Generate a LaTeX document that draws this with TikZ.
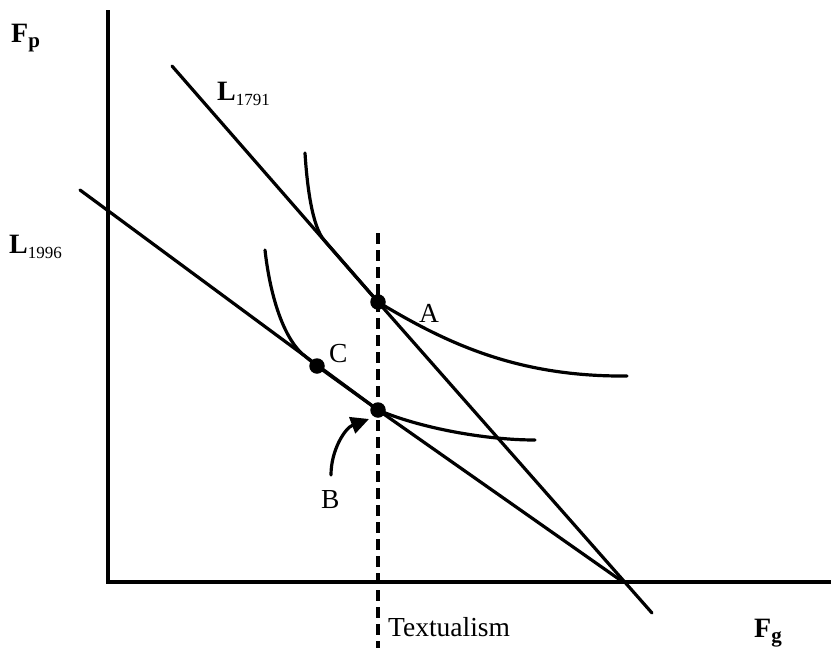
\documentclass[tikz,border=0pt]{standalone}
\usepackage{fontspec}
\setmainfont{Liberation Serif}
\usetikzlibrary{arrows.meta}
\newcommand{\lowsub}[2][17]{\raisebox{-5pt}{\fontsize{#1}{#1}\selectfont #2}}
\begin{document}
\begin{tikzpicture}[x=1pt,y=-1pt,
  ln/.style={line width=3.2pt, line cap=round, line join=round},
  dsh/.style={line width=3.2pt, dash pattern=on 11pt off 6pt},
  lab/.style={inner sep=0pt, font=\fontsize{27.5}{30}\selectfont, anchor=base west},
  axlab/.style={inner sep=0pt, font=\fontsize{28}{30}\selectfont\bfseries, anchor=base west},
  dotn/.style={circle, fill=black, inner sep=0pt, minimum size=15.5pt}]
\useasboundingbox (0,0) rectangle (831,648);
% axes
\coordinate (yt) at (108,10);
\coordinate (o) at (108,582);
\coordinate (xr) at (831,582);
\draw[line width=3.2pt] (yt) -- (o) -- (xr);
% key points
\coordinate (Ap) at (378,302);
\coordinate (Cp) at (317,366);
\coordinate (Bp) at (378,410);
% budget lines
\coordinate (u1) at (172,66);
\coordinate (u2) at (652,613);
\coordinate (l1) at (80,190);
\coordinate (l2) at (623,582);
\draw[ln] (u1) -- (Ap) -- (u2);
\draw[ln] (l1) -- (Bp) -- (l2);
% dashed textualism line
\coordinate (dt) at (378,233);
\coordinate (db) at (378,648);
\draw[dsh] (dt) -- (db);
% indifference curves
\coordinate (ut) at (305,153);
\coordinate (um) at (324,240);
\coordinate (ue) at (627,376);
\draw[ln] (ut) .. controls (307,185) and (312,226) .. (um) -- (Ap)
  .. controls (446,343) and (517,377) .. (ue);
\coordinate (lt) at (265,250);
\coordinate (lm) at (306,357);
\coordinate (le) at (535,440);
\draw[ln] (lt) .. controls (270,295) and (283.5,340.4) .. (lm) -- (Cp) -- (Bp)
  .. controls (420,428) and (485,440) .. (le);
% dots
\node[dotn] (A) at (Ap) {};
\node[dotn] (C) at (Cp) {};
\node[dotn] (B) at (Bp) {};
% arrow to B
\coordinate (as) at (331,475);
\coordinate (ae) at (369,419);
\draw[ln, -{Triangle[length=18pt,width=17pt]}] (as) .. controls (331,450) and (345,428) .. (ae);
% labels
\node[axlab] (fp) at (11,42) {F\lowsub[21]{p}};
\node[axlab] (fg) at (754,637) {F\lowsub[21]{g}};
\node[axlab] (l1791) at (217,100) {L\lowsub{\mdseries 1791}};
\node[axlab] (l1996) at (9,253) {L\lowsub{\mdseries 1996}};
\node[lab] (tx) at (388,636) {Textualism};
\node[lab] (al) at (419,322) {A};
\node[lab] (cl) at (329,362) {C};
\node[lab] (bl) at (321,508) {B};
\end{tikzpicture}
\end{document}
